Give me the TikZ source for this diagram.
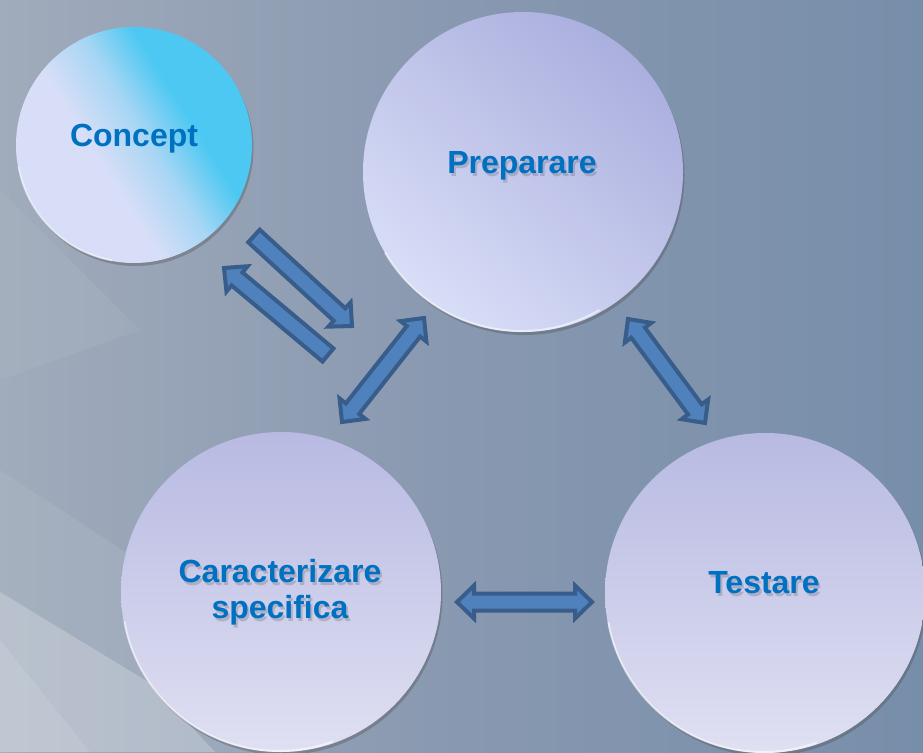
\documentclass[tikz,border=0pt]{standalone}
\usepackage{fontspec}
\setmainfont{Liberation Sans}
\usetikzlibrary{calc,shadows}
\definecolor{bgL}{HTML}{A0ABBB}
\definecolor{bgM}{HTML}{8898B0}
\definecolor{bgR}{HTML}{778EAA}
\definecolor{arrFill}{HTML}{4F81BD}
\definecolor{arrLine}{HTML}{385D8A}
\definecolor{txt}{HTML}{0070C0}
\definecolor{lavD}{HTML}{ABAFDE}
\definecolor{lavM}{HTML}{C6CBEE}
\definecolor{lavL}{HTML}{D8DEF7}
\definecolor{lavT}{HTML}{B8BAE2}
\definecolor{lavB}{HTML}{DFE0F2}
\definecolor{cyanC}{HTML}{4CC8F2}
\definecolor{cyanMix}{HTML}{A6D6F4}
\pgfdeclareverticalshading{conceptsh}{100bp}{color(0bp)=(lavL); color(25bp)=(lavL); color(42bp)=(lavL); color(53bp)=(cyanMix); color(63bp)=(cyanC); color(100bp)=(cyanC)}
\tikzset{
  bubble/.style={circle, draw=none, inner sep=0pt, minimum size=#1,
    drop shadow={shadow xshift=1.5pt, shadow yshift=-3pt, opacity=0.35, fill=black!70}},
  lbl/.style={font=\bfseries\fontsize{32}{36}\selectfont, text=txt, align=center, inner sep=0pt},
  lblshadow/.style={font=\bfseries\fontsize{32}{36}\selectfont, text=black!80, text opacity=0.2, align=center, inner sep=0pt},
  barrow/.style={fill=arrFill, draw=arrLine, line width=4pt, line join=miter, miter limit=5}
}
% single block arrow from tail #1 to tip #2
\newcommand\blockone[2]{%
  \draw[barrow] ($(#1)!8.5pt!90:(#2)$)
    -- ($(#2)!17pt!(#1)!8.5pt!-90:(#1)$)
    -- ($(#2)!17pt!(#1)!16.5pt!-90:(#1)$)
    -- (#2)
    -- ($(#2)!17pt!(#1)!16.5pt!90:(#1)$)
    -- ($(#2)!17pt!(#1)!8.5pt!90:(#1)$)
    -- ($(#1)!8.5pt!-90:(#2)$) -- cycle;}
% double block arrow between tips #1 and #2
\newcommand\blocktwo[2]{%
  \draw[barrow] (#1)
    -- ($(#1)!17pt!(#2)!16.5pt!90:(#2)$)
    -- ($(#1)!17pt!(#2)!8.5pt!90:(#2)$)
    -- ($(#2)!17pt!(#1)!8.5pt!-90:(#1)$)
    -- ($(#2)!17pt!(#1)!16.5pt!-90:(#1)$)
    -- (#2)
    -- ($(#2)!17pt!(#1)!16.5pt!90:(#1)$)
    -- ($(#2)!17pt!(#1)!8.5pt!90:(#1)$)
    -- ($(#1)!17pt!(#2)!8.5pt!-90:(#2)$)
    -- ($(#1)!17pt!(#2)!16.5pt!-90:(#2)$) -- cycle;}
\begin{document}
\begin{tikzpicture}[x=1pt, y=-1pt]
  % background
  \shade[left color=bgL, right color=bgR, middle color=bgM] (0,0) rectangle (923,752);
  \useasboundingbox (0,0) rectangle (923,752);
  % light streaks lower left
  \fill[white, opacity=0.05] (0,190) -- (140,330) -- (0,380) -- cycle;
  \fill[white, opacity=0.07] (0,470) -- (260,640) -- (300,752) -- (0,752) -- cycle;
  \fill[white, opacity=0.22] (0,592) -- (150,683) -- (215,752) -- (0,752) -- cycle;
  \fill[white, opacity=0.10] (0,640) -- (90,752) -- (0,752) -- cycle;

  % bubbles
  \node[bubble=236pt, shade, shading=conceptsh, shading angle=-58] (cC) at (134,145) {};
  \node[bubble=320pt, top color=lavD, bottom color=lavL, shading angle=-40] (cP) at (523,172) {};
  \node[bubble=320pt, top color=lavT, bottom color=lavB] (cK) at (281,592) {};
  \node[bubble=320pt, top color=lavT, bottom color=lavB] (cT) at (765,593) {};
  % rim highlights
  \draw[white, opacity=0.55, line width=2pt] ([shift={(-2,2)}]cP.center) ++(150:157) arc[start angle=150, end angle=60, radius=157];
  \draw[white, opacity=0.55, line width=2pt] ([shift={(-2,2)}]cK.center) ++(170:157) arc[start angle=170, end angle=70, radius=157];
  \draw[white, opacity=0.55, line width=2pt] ([shift={(-2,2)}]cT.center) ++(170:157) arc[start angle=170, end angle=70, radius=157];
  \draw[white, opacity=0.45, line width=2pt] ([shift={(-2,2)}]cC.center) ++(170:115) arc[start angle=170, end angle=100, radius=115];

  % labels
  \node[lbl] (tC) at (134,139) {Concept};
  \node[lblshadow] (tPs) at (524,169) {Preparare};
  \node[lbl] (tP) at (522,166) {Preparare};
  \node[lblshadow] (tKs) at (282,595) {Caracterizare\\specifica};
  \node[lbl] (tK) at (280,592) {Caracterizare\\specifica};
  \node[lblshadow] (tTs) at (766,586) {Testare};
  \node[lbl] (tT) at (764,583) {Testare};

  % arrow end points
  \coordinate (a1) at (254,236);
  \coordinate (a2) at (352,326);
  \coordinate (b1) at (328,355);
  \coordinate (b2) at (224,268);
  \coordinate (c1) at (424,318);
  \coordinate (c2) at (342,422);
  \coordinate (d1) at (628,319);
  \coordinate (d2) at (705,423);
  \coordinate (e1) at (457,602);
  \coordinate (e2) at (592,602);

  \blockone{a1}{a2}
  \blockone{b1}{b2}
  \blocktwo{c1}{c2}
  \blocktwo{d1}{d2}
  \blocktwo{e1}{e2}
\end{tikzpicture}
\end{document}
